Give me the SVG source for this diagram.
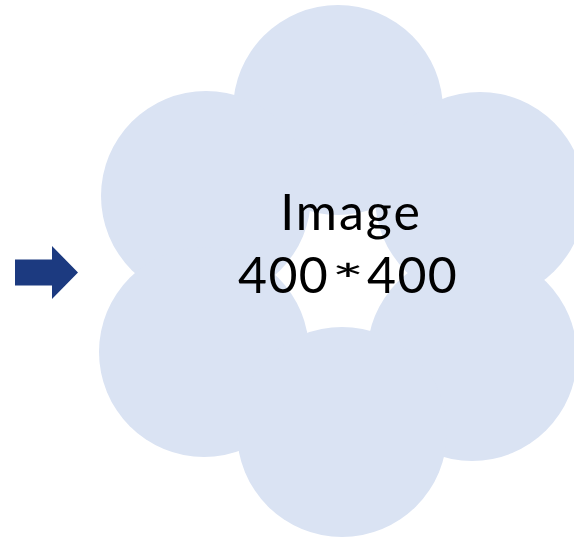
<svg xmlns="http://www.w3.org/2000/svg" width="574" height="538" viewBox="0 0 574 538">
  <style>
    .petal { fill: #DAE3F3; }
    .label { font-family: Lato, "Liberation Sans", sans-serif; font-size: 50px; fill: #000000; }
    .pointer { fill: #1C3A80; }
  </style>
  <rect width="574" height="538" fill="#FFFFFF"/>

  <!-- pointer arrow on the left -->
  <g id="arrow">
    <polygon class="pointer" points="15,259.5 52,259.5 52,246 78,272.5 52,299 52,285.5 15,285.5"/>
  </g>

  <!-- six overlapping circles forming the flower, hollow in the middle -->
  <g id="flower">
    <circle class="petal" cx="338" cy="110" r="105"/>
    <circle class="petal" cx="206" cy="196" r="105"/>
    <circle class="petal" cx="480" cy="197" r="105"/>
    <circle class="petal" cx="204" cy="352" r="105"/>
    <circle class="petal" cx="472" cy="356" r="105"/>
    <circle class="petal" cx="342" cy="432" r="105"/>
    <text class="label" x="351" y="230" text-anchor="middle" letter-spacing="2">Image</text>
    <text class="label" y="293" letter-spacing="1.4"><tspan x="238">400</tspan><tspan x="367">400</tspan></text>
    <!-- widened asterisk between the two numbers -->
    <text class="label" transform="translate(348,296) scale(1.55,0.9)" x="0" y="0" font-size="68" text-anchor="middle">*</text>
  </g>

  <g id="connectors"></g>
</svg>
